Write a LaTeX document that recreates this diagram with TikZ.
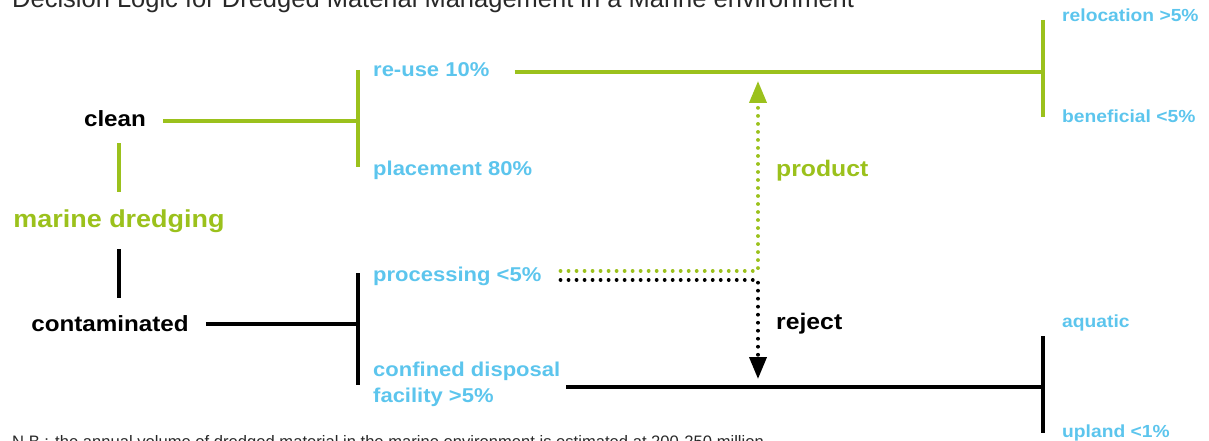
\documentclass[tikz,border=0pt]{standalone}
\usepackage{fontspec}
\setmainfont{Liberation Sans}[FakeStretch=1.1]
\newfontfamily\titlefont{Liberation Sans}
\usepackage{tikz}
\usetikzlibrary{arrows.meta}
\definecolor{dgreen}{RGB}{155,193,28}
\definecolor{dblue}{RGB}{92,197,237}
\definecolor{dgray}{RGB}{40,40,40}

\begin{document}
\begin{tikzpicture}[x=1pt,y=-1pt,
	catlabel/.style={font=\bfseries\fontsize{22}{26}\selectfont,inner sep=17pt,anchor=base},
	optlabel/.style={font=\bfseries\fontsize{20}{26}\selectfont,text=dblue,inner sep=0pt,anchor=base west,align=left},
	sublabel/.style={font=\bfseries\fontsize{17.5}{21}\selectfont,text=dblue,inner sep=0pt,anchor=base west},
	flowlabel/.style={font=\bfseries\fontsize{22.5}{26}\selectfont,inner sep=0pt,anchor=base west},
	gline/.style={draw=dgreen,line width=3.4pt},
	kline/.style={draw=black,line width=3.6pt},
	gdot/.style={draw=dgreen,line width=3.8pt,line cap=round,dash pattern=on 0.01pt off 8pt},
	kdot/.style={draw=black,line width=3.8pt,line cap=round,dash pattern=on 0.01pt off 8pt},
	tip/.style={-{Triangle[width=17pt,length=22pt]}}]
\useasboundingbox (0,0) rectangle (1209,441);
\node [anchor=base west,inner sep=0pt,text=dgray,font=\titlefont\fontsize{25.5}{30}\selectfont] (title) at (12,8)
	{Decision Logic for Dredged Material Management in a Marine environment};
\node [anchor=base west,inner sep=0pt,text=dgray,font=\titlefont\fontsize{16.6}{19}\selectfont] (note) at (12,447)
	{N.B.: the annual volume of dredged material in the marine environment is estimated at 200-250 million};

\node [catlabel] (clean) at (115,126) {clean};
\node [catlabel,text=dgreen,font=\bfseries\fontsize{24.5}{28}\selectfont] (dredge) at (119,227) {marine dredging};
\node [catlabel] (cont) at (110,331) {contaminated};

\node [optlabel] (reuse) at (373,77) {re-use 10\%};
\node [optlabel] (place) at (373,175) {placement 80\%};
\node [optlabel] (proc) at (373,281) {processing <5\%};
\node [optlabel] (cdf) at (373,402) {confined disposal\\facility >5\%};

\node [sublabel] (reloc) at (1062,22) {relocation >5\%};
\node [sublabel] (benef) at (1062,123) {beneficial <5\%};
\node [sublabel] (aqua) at (1062,327) {aquatic};
\node [sublabel] (upland) at (1062,437) {upland <1\%};

\node [flowlabel,text=dgreen] (prod) at (776,176) {product};
\node [flowlabel] (rej) at (776,329) {reject};

\coordinate (cjoin) at (358,121);
\coordinate (kjoin) at (358,324);
\coordinate (rjoin) at (1043,72);
\coordinate (djoin) at (1043,387);
\coordinate (gtip) at (758,81);
\coordinate (ktip) at (758,379);

\draw [gline] (clean.south -| dredge.north) -- (dredge.north);
\draw [kline] (cont.north -| dredge.south) -- (dredge.south);
\draw [gline] (clean.east |- cjoin) -- (cjoin);
\draw [kline] (cont.east |- kjoin) -- (kjoin);
\draw [gline] (358,70) -- (358,167);
\draw [kline] (358,273) -- (358,385);
\draw [gline,shorten <=25pt] (reuse.east |- rjoin) -- (rjoin);
\draw [kline,shorten <=6pt] (cdf.east |- djoin) -- (djoin);
\draw [gline] (1043,20) -- (1043,117);
\draw [kline] (1043,336) -- (1043,433);

\draw [gdot,tip] ([xshift=19pt,yshift=5pt]proc.east) -| (gtip);
\draw [kdot,tip] ([xshift=19pt,yshift=-4pt]proc.east) -| (ktip);
\end{tikzpicture}
\end{document}
